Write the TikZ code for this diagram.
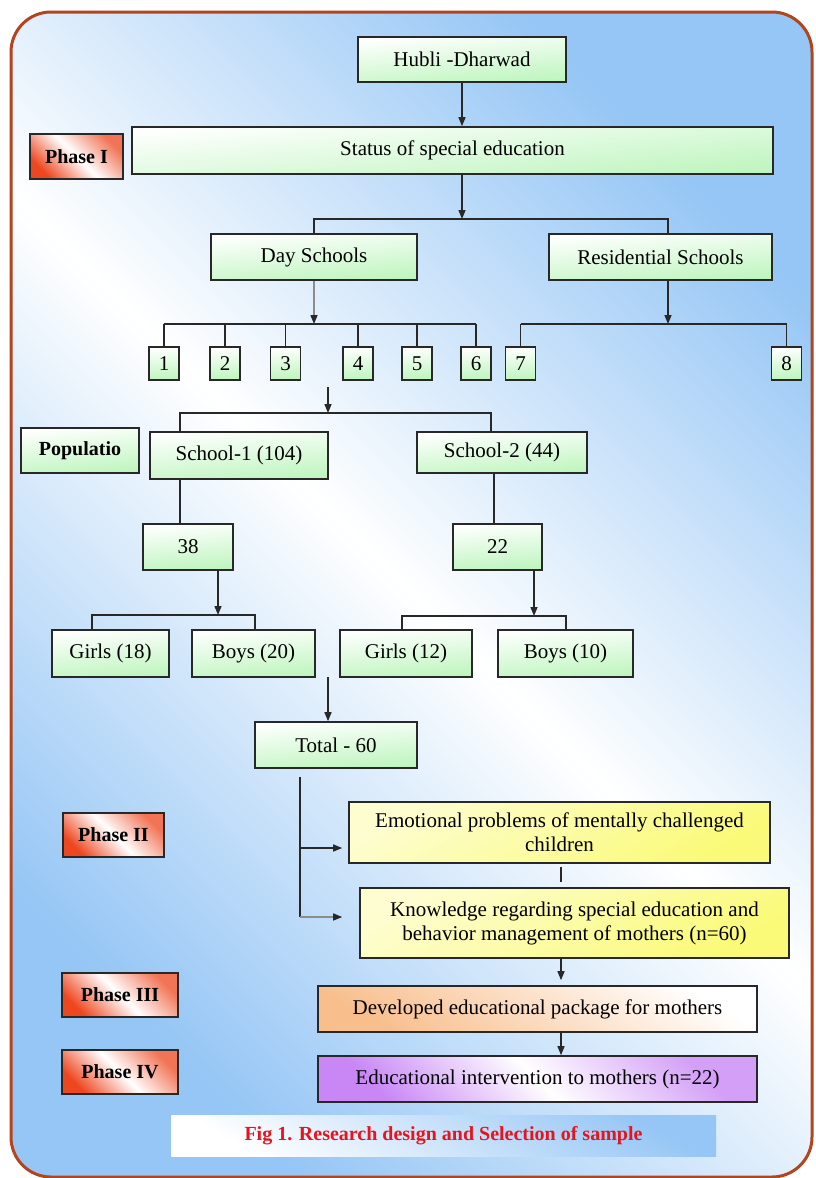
\documentclass[tikz,border=0pt]{standalone}
\usepackage{fontspec}
\setmainfont{Liberation Serif}
\usetikzlibrary{arrows.meta,calc}
\definecolor{bgblue}{RGB}{150,198,245}
\definecolor{framec}{RGB}{178,68,30}
\definecolor{gfill}{RGB}{190,245,190}
\definecolor{phred}{RGB}{238,70,30}
\definecolor{yfill}{RGB}{250,250,120}
\definecolor{ofill}{RGB}{248,190,140}
\definecolor{pfill}{RGB}{200,135,245}
\definecolor{capred}{RGB}{230,20,30}
\definecolor{edge}{RGB}{40,40,40}
\tikzset{
 box/.style={draw=edge, line width=1.6pt, inner sep=2pt, align=center, font=\fontsize{21}{24}\selectfont},
 gbox/.style={box, top color=white, bottom color=gfill, shading angle=5},
 sbox/.style={gbox, minimum width=30pt, minimum height=33pt, inner sep=0pt},
 phbox/.style={box, top color=phred!75, bottom color=phred, middle color=white, shading angle=-45, font=\fontsize{20}{24}\selectfont\bfseries},
 ybox/.style={box, top color=yfill!35, bottom color=yfill, shading angle=30},
 obox/.style={box, top color=white, bottom color=ofill, shading angle=-30},
 pbox/.style={box, top color=pfill!80, bottom color=pfill, middle color=white, shading angle=-45},
 capbox/.style={top color=bgblue, bottom color=white, shading angle=-30, text=capred, font=\fontsize{20}{24}\selectfont\bfseries},
 conn/.style={line width=1.4pt, draw=edge},
 arr/.style={conn, -{Triangle[length=9pt,width=7pt]}},
 arrg/.style={line width=1.4pt, draw=black!45, -{Triangle[length=9pt,width=7pt,color=edge]}},
}
\begin{document}
\begin{tikzpicture}[x=1pt,y=-1pt]
\useasboundingbox (0,0) rectangle (815,1178);
\shade[top color=bgblue, bottom color=bgblue, middle color=white, shading angle=-45, rounded corners=40pt] (11,12) rectangle (812,1177);
\draw[framec, line width=3pt, rounded corners=40pt] (11,12) rectangle (812,1177);

\node[gbox, minimum width=208pt, minimum height=45pt] (hubli) at (462,59.5) {Hubli -Dharwad};
\node[phbox, minimum width=93pt, minimum height=45pt] (ph1) at (76.5,156.5) {Phase I};
\node[gbox, minimum width=641pt, minimum height=47pt] (status) at (452.5,150.5) {Status of special education};
\node[gbox, minimum width=206pt, minimum height=46pt] (day) at (314,257) {Day Schools};
\node[gbox, minimum width=223pt, minimum height=46pt] (resid) at (660.5,257) {Residential Schools};
\node[sbox] (b1) at (164,363.5) {1};
\node[sbox] (b2) at (225,363.5) {2};
\node[sbox] (b3) at (285.5,363.5) {3};
\node[sbox] (b4) at (358,363.5) {4};
\node[sbox] (b5) at (417,363.5) {5};
\node[sbox] (b6) at (476,363.5) {6};
\node[sbox] (b7) at (520.5,363.5) {7};
\node[sbox] (b8) at (786.5,363.5) {8};
\node[gbox, minimum width=118pt, minimum height=45pt, font=\fontsize{20}{24}\selectfont\bfseries] (pop) at (80,450.5) {Populatio};
\node[gbox, minimum width=178pt, minimum height=47pt] (s1) at (239,455.5) {School-1 (104)};
\node[gbox, minimum width=170pt, minimum height=41pt] (s2) at (502,452.5) {School-2 (44)};
\node[gbox, minimum width=90pt, minimum height=46pt] (n38) at (188,547) {38};
\node[gbox, minimum width=89pt, minimum height=46pt] (n22) at (497.5,547) {22};
\node[gbox, minimum width=117pt, minimum height=47pt] (g18) at (110.5,653.5) {Girls (18)};
\node[gbox, minimum width=123pt, minimum height=47pt] (b20) at (253.5,653.5) {Boys (20)};
\node[gbox, minimum width=132pt, minimum height=47pt] (g12) at (406,653.5) {Girls (12)};
\node[gbox, minimum width=135pt, minimum height=47pt] (b10) at (565.5,653.5) {Boys (10)};
\node[gbox, minimum width=162pt, minimum height=46pt] (total) at (336,745) {Total - 60};
\node[ybox, minimum width=421pt, minimum height=61pt] (emo) at (559.5,832.5) {Emotional problems of mentally challenged\\children};
\node[ybox, minimum width=429pt, minimum height=70pt] (know) at (574.5,923) {Knowledge regarding special education and\\behavior management of mothers (n=60)};
\node[obox, minimum width=439pt, minimum height=46pt] (dev) at (537.5,1009) {Developed educational package for mothers};
\node[pbox, minimum width=439pt, minimum height=46pt] (edu) at (537.5,1079) {Educational intervention to mothers (n=22)};
\node[phbox, minimum width=101pt, minimum height=44pt] (ph2) at (113.5,835) {Phase II};
\node[phbox, minimum width=116pt, minimum height=44pt] (ph3) at (120,995) {Phase III};
\node[phbox, minimum width=116pt, minimum height=44pt] (ph4) at (120,1072) {Phase IV};
\node[capbox, minimum width=545pt, minimum height=41pt] (cap) at (443.5,1135.5) {Fig 1. Research design and Selection of sample};

% connectors
\draw[arr] (hubli.south) -- (hubli.south |- status.north);
\coordinate (j0) at (462,219);
\coordinate (jl) at (314,219);
\coordinate (jr) at (668,219);
\draw[arr] (j0 |- status.south) -- (j0);
\draw[conn] (day.north) -- (jl) -- (jr) -- (jr |- resid.north);
\coordinate (c1) at (314,324);
\coordinate (c2) at (668,324);
\draw[arrg] (day.south) -- (c1);
\draw[arr] (jr |- resid.south) -- (c2);
\draw[conn] (b1.north |- c1) -- (b6.north |- c1);
\draw[conn] (b7.north |- c2) -- (b8.north |- c2);
\foreach \n in {b1,b2,b3,b4,b5,b6,b7,b8} \draw[conn] (\n.north |- c1) -- (\n.north);
\coordinate (fa) at (328,387);
\coordinate (fb) at (328,413);
\draw[arr] (fa) -- (fb);
\coordinate (t1) at (180,413);
\coordinate (t2) at (491,413);
\coordinate (t3) at (494,0);
\draw[conn] (t1 |- s1.north) -- (t1) -- (t2) -- (t2 |- s2.north);
\draw[conn] (t1 |- s1.south) -- (t1 |- n38.north);
\draw[conn] (t3 |- s2.south) -- (t3 |- n22.north);
\coordinate (u1) at (218,615);
\coordinate (u1l) at (92,615);
\coordinate (u1r) at (255,615);
\draw[arr] (u1 |- n38.south) -- (u1);
\draw[conn] (u1l |- g18.north) -- (u1l) -- (u1r) -- (u1r |- b20.north);
\coordinate (u2) at (534,616);
\coordinate (u2l) at (402,616);
\coordinate (u2r) at (566,616);
\draw[arr] (u2 |- n22.south) -- (u2);
\draw[conn] (u2l |- g12.north) -- (u2l) -- (u2r) -- (u2r |- b10.north);
\coordinate (v1) at (328,677);
\draw[arr] (v1) -- (v1 |- total.north);
\coordinate (w0) at (300,777);
\coordinate (w1) at (300,848);
\coordinate (w2) at (300,917);
\draw[conn] (w0) -- (w2);
\draw[arr, shorten >=6pt] (w1) -- (emo.west |- w1);
\draw[arrg, shorten >=17pt] (w2) -- (know.west |- w2);
\coordinate (k) at (561,0);
\draw[conn, shorten <=3pt, shorten >=5pt] (k |- emo.south) -- (k |- know.north);
\draw[arr, shorten >=5pt] (k |- know.south) -- (k |- dev.north);
\draw[arr] (k |- dev.south) -- (k |- edu.north);
\end{tikzpicture}
\end{document}
